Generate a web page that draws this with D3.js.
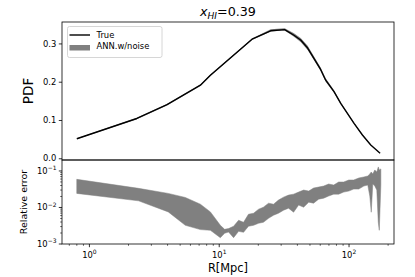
<!DOCTYPE html>
<html><head><meta charset="utf-8">
<script src="https://cdn.jsdelivr.net/npm/d3@7"></script>
<style>
body{margin:0;background:#fff;}
text{font-family:"DejaVu Sans",sans-serif;fill:#000;}
</style></head>
<body><svg id="c" width="415" height="277"></svg>
<script>
// ---- data ----
const pdfR    = [0.80, 2.32, 3.96, 7.16, 8.55, 17.9, 24.9, 31.9, 37.4, 42.4, 48.0, 60.4, 66.1, 76.6, 86.3, 109.3, 126.8, 147, 173.5];
const pdfTrue = [0.051, 0.104, 0.140, 0.191, 0.217, 0.311, 0.333, 0.336, 0.322, 0.309, 0.288, 0.232, 0.204, 0.174, 0.1436, 0.0914, 0.0608, 0.0347, 0.013];
const annLow  = [0.050, 0.102, 0.138, 0.189, 0.215, 0.309, 0.331, 0.334, 0.318, 0.304, 0.283, 0.228, 0.200, 0.171, 0.1410, 0.0895, 0.0595, 0.0339, 0.0126];
const annHigh = [0.052, 0.106, 0.142, 0.193, 0.219, 0.313, 0.337, 0.340, 0.327, 0.314, 0.294, 0.237, 0.209, 0.178, 0.1465, 0.0935, 0.0622, 0.0356, 0.0134];

const errR    = [0.799, 2.39, 4.05, 5.48, 7.16, 8.55, 10.2, 11.0, 11.8, 12.9, 14.1, 15.4, 16.8, 18.4, 20.1, 21.9, 24.0, 26.2, 28.6, 31.3, 34.2, 37.4, 40.9, 44.7, 48.9, 53.3, 58.3, 63.8, 69.6, 76.2, 83.2, 91.0, 99.5, 108.7, 118.8, 130, 139.4, 144.5, 148.3, 152.4, 157.9, 163.6, 168, 171, 175.8];
const errHigh = [0.059, 0.0334, 0.0243, 0.0188, 0.0123, 0.00757, 0.00325, 0.00252, 0.00264, 0.00306, 0.00447, 0.00393, 0.00653, 0.00696, 0.00897, 0.0102, 0.0131, 0.0123, 0.0159, 0.0192, 0.0218, 0.0232, 0.0264, 0.030, 0.0281, 0.034, 0.0362, 0.0386, 0.0439, 0.0411, 0.0498, 0.0498, 0.0565, 0.0565, 0.0641, 0.0684, 0.0728, 0.0826, 0.0938, 0.0826, 0.1066, 0.0938, 0.129, 0.1066, 0.1135];
const errLow  = [0.0243, 0.0152, 0.00757, 0.00325, 0.00248, 0.00237, 0.00149, 0.00196, 0.00213, 0.00149, 0.00222, 0.00209, 0.00306, 0.00325, 0.0037, 0.00393, 0.00507, 0.00614, 0.00696, 0.00843, 0.00957, 0.00741, 0.0116, 0.0102, 0.014, 0.0131, 0.0169, 0.018, 0.0205, 0.0232, 0.0232, 0.0264, 0.0281, 0.0319, 0.0319, 0.0386, 0.0411, 0.0205, 0.00741, 0.0439, 0.0386, 0.030, 0.00393, 0.00237, 0.0411];

const pdfTicks = [0.0, 0.1, 0.2, 0.3];
const errTicks = [-3, -2, -1];
const xTicks = [0, 1, 2];
const legendLabels = ["True", "ANN.w/noise"];

// ---- layout ----
const svg = d3.select("#c");
const L = 62, R = 394, T1 = 22, B1 = 160, T2 = 160, B2 = 244;
const x = d3.scaleLog().domain([0.615, 222]).range([L, R]);
const y1 = d3.scaleLinear().domain([-0.0045, 0.356]).range([B1, T1]);
const y2 = d3.scaleLog().domain([1e-3, Math.pow(10, -0.7)]).range([B2, T2]);
const fs = 8.4;

// clip paths
const defs = svg.append("defs");
defs.append("clipPath").attr("id","cp1").append("rect").attr("x",L).attr("y",T1).attr("width",R-L).attr("height",B1-T1);
defs.append("clipPath").attr("id","cp2").append("rect").attr("x",L).attr("y",T2).attr("width",R-L).attr("height",B2-T2);

// top panel band + line
const g1 = svg.append("g").attr("clip-path","url(#cp1)");
const band1 = pdfR.map((r,i)=>({r, lo:annLow[i], hi:annHigh[i], t:pdfTrue[i]}));
g1.append("path").datum(band1)
  .attr("d", d3.area().x(d=>x(d.r)).y0(d=>y1(d.lo)).y1(d=>y1(d.hi)))
  .attr("fill","#808080");
g1.append("path").datum(band1)
  .attr("d", d3.line().x(d=>x(d.r)).y(d=>y1(d.t)))
  .attr("fill","none").attr("stroke","#000").attr("stroke-width",1.4).attr("stroke-linejoin","round");

// bottom band
const g2 = svg.append("g").attr("clip-path","url(#cp2)");
const band2 = errR.map((r,i)=>({r, lo:errLow[i], hi:errHigh[i]}));
g2.append("path").datum(band2)
  .attr("d", d3.area().x(d=>x(d.r)).y0(d=>y2(d.lo)).y1(d=>y2(d.hi)))
  .attr("fill","#808080").attr("stroke","#808080").attr("stroke-width",0.5);

// frames
[[T1,B1],[T2,B2]].forEach(([t,b])=>{
  svg.append("rect").attr("x",L).attr("y",t).attr("width",R-L).attr("height",b-t)
    .attr("fill","none").attr("stroke","#000").attr("stroke-width",0.8);
});

// top y axis
const ay1 = svg.append("g").attr("transform",`translate(${L},0)`)
  .call(d3.axisLeft(y1).tickValues(pdfTicks).tickSize(3.2).tickPadding(2.5).tickFormat(d3.format(".1f")));
ay1.select(".domain").remove();
ay1.selectAll("line").attr("stroke","#000").attr("stroke-width",0.8);
ay1.selectAll("text").attr("font-size",fs).attr("font-family","DejaVu Sans").attr("fill","#000");

// bottom y axis (log)
const minorY = [];
[-3,-2].forEach(e=>{for(let k=2;k<=9;k++) minorY.push(k*Math.pow(10,e));});
const ay2 = svg.append("g");
ay2.selectAll("line.mj").data(errTicks).enter().append("line")
  .attr("x1",L-3.2).attr("x2",L).attr("y1",d=>y2(Math.pow(10,d))).attr("y2",d=>y2(Math.pow(10,d)))
  .attr("stroke","#000").attr("stroke-width",0.8);
ay2.selectAll("line.mn").data(minorY).enter().append("line")
  .attr("x1",L-1.8).attr("x2",L).attr("y1",d=>y2(d)).attr("y2",d=>y2(d))
  .attr("stroke","#000").attr("stroke-width",0.6);
const yl = ay2.selectAll("text").data(errTicks).enter().append("text")
  .attr("x",L-5.5).attr("y",d=>y2(Math.pow(10,d))+3).attr("text-anchor","end").attr("font-size",fs);
yl.append("tspan").text("10");
yl.append("tspan").attr("dy",-3.6).attr("font-size",6).text(d=>"\u2212"+(-d));

// x axis (log) for bottom
const minorX = [];
[-1,0,1,2].forEach(e=>{for(let k=2;k<=9;k++){const v=k*Math.pow(10,e); if(v>=0.615&&v<=222) minorX.push(v);}});
const ax = svg.append("g");
ax.selectAll("line.mj").data(xTicks).enter().append("line")
  .attr("x1",d=>x(Math.pow(10,d))).attr("x2",d=>x(Math.pow(10,d))).attr("y1",B2).attr("y2",B2+3.2)
  .attr("stroke","#000").attr("stroke-width",0.8);
ax.selectAll("line.mn").data(minorX).enter().append("line")
  .attr("x1",d=>x(d)).attr("x2",d=>x(d)).attr("y1",B2).attr("y2",B2+1.8)
  .attr("stroke","#000").attr("stroke-width",0.6);
const xl = ax.selectAll("text").data(xTicks).enter().append("text")
  .attr("x",d=>x(Math.pow(10,d))).attr("y",B2+14).attr("text-anchor","middle").attr("font-size",fs);
xl.append("tspan").text("10");
xl.append("tspan").attr("dy",-3.6).attr("font-size",6).text(d=>String(d));

// axis labels
svg.append("text").attr("transform",`translate(${33},${91}) rotate(-90)`).attr("text-anchor","middle")
  .attr("font-size",13.5).text("PDF");
svg.append("text").attr("transform",`translate(${27},${202}) rotate(-90)`).attr("text-anchor","middle")
  .attr("font-size",9.5).text("Relative error");
svg.append("text").attr("x",228).attr("y",272).attr("text-anchor","middle")
  .attr("font-size",11.4).text("R[Mpc]");

// title
const title = svg.append("text").attr("x",228).attr("y",16).attr("text-anchor","middle").attr("font-size",12.7);
title.append("tspan").attr("font-style","italic").text("x");
title.append("tspan").attr("font-style","italic").attr("font-size",9).attr("dy",2.5).text("HI");
title.append("tspan").attr("dy",-2.5).text("=0.39");

// legend
const lg = svg.append("g");
lg.append("rect").attr("x",67.5).attr("y",26.5).attr("width",94.5).attr("height",31).attr("rx",2)
  .attr("fill","#fff").attr("fill-opacity",0.8).attr("stroke","#cccccc").attr("stroke-width",0.8);
lg.append("line").attr("x1",69.5).attr("x2",90).attr("y1",35).attr("y2",35).attr("stroke","#000").attr("stroke-width",1.4);
lg.append("rect").attr("x",69.5).attr("y",45).attr("width",20.5).attr("height",5.5).attr("fill","#808080");
lg.selectAll("text.l").data(legendLabels).enter().append("text")
  .attr("x",96.5).attr("y",(d,i)=>38+i*10.7).attr("font-size",fs).text(d=>d);
</script></body></html>
